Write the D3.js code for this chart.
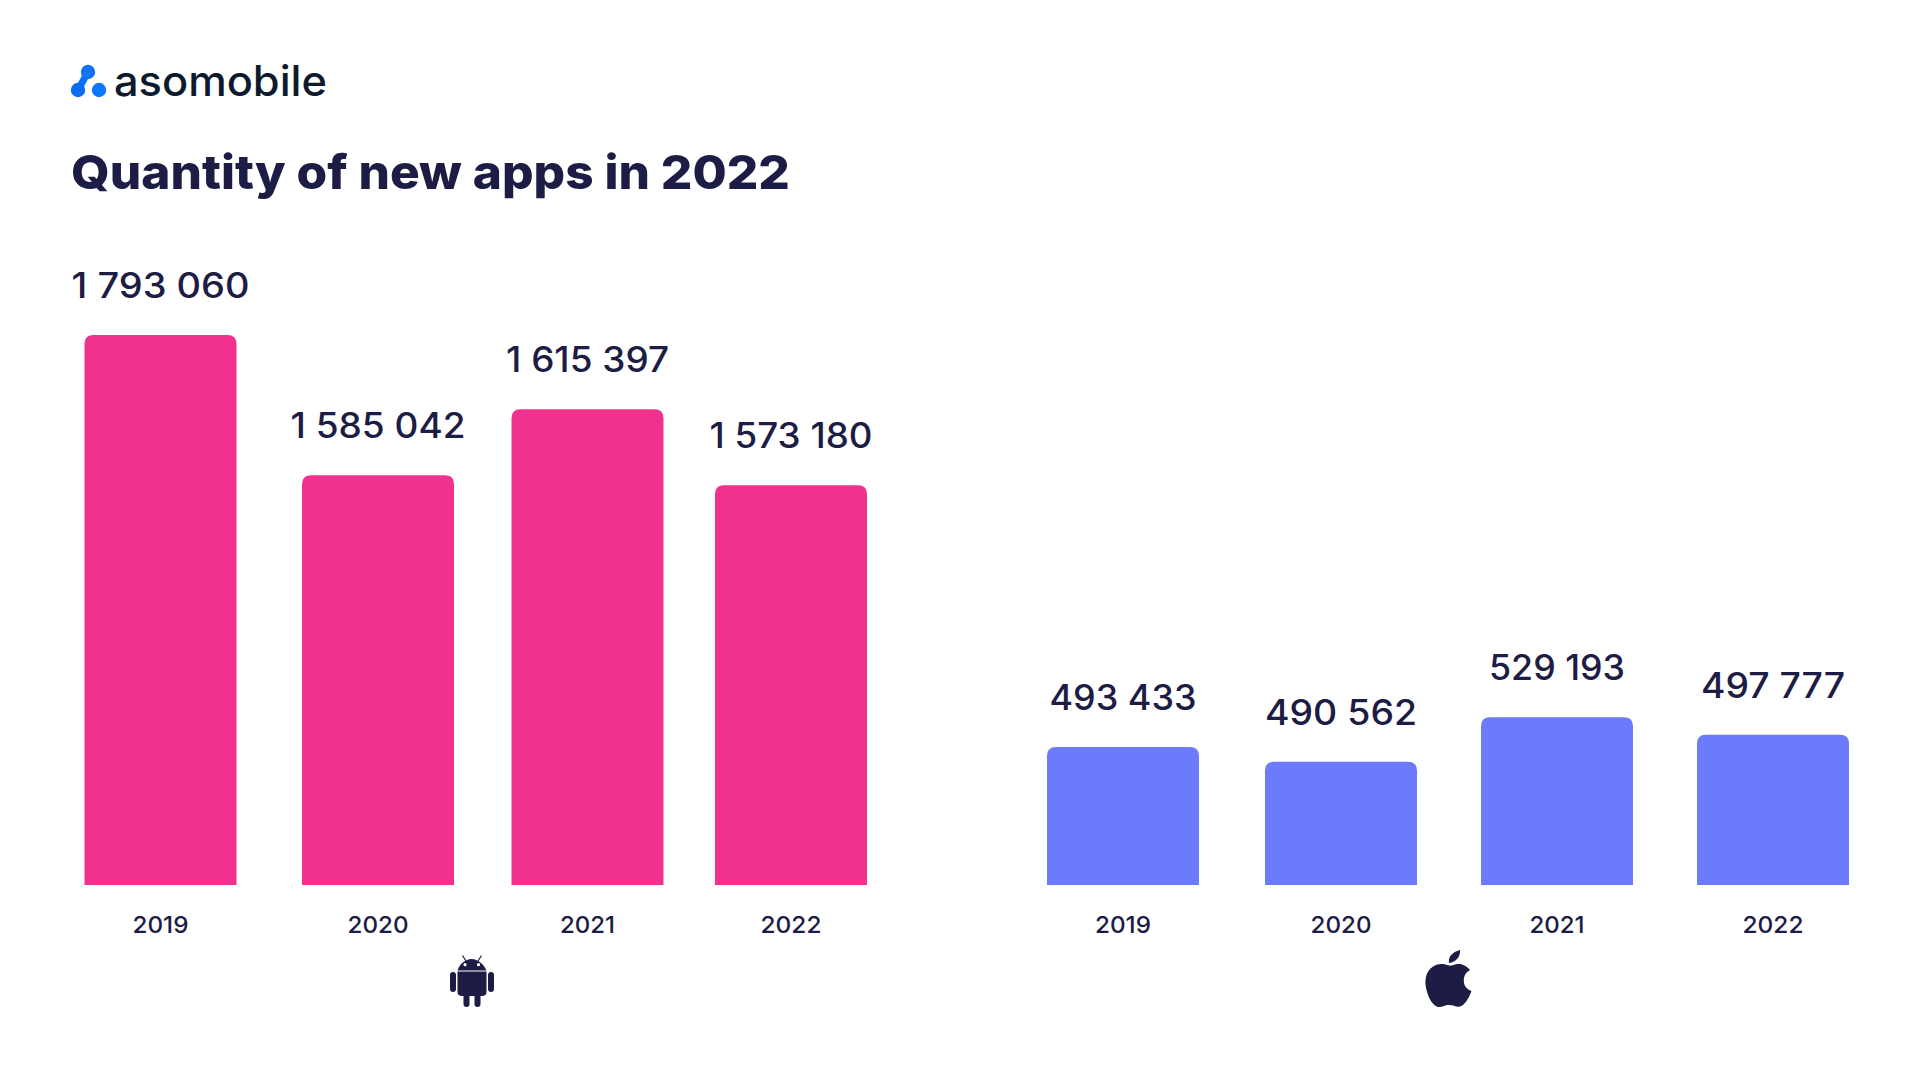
<!DOCTYPE html>
<html>
<head>
<meta charset="utf-8">
<style>
html,body{margin:0;padding:0;background:#fff;width:1920px;height:1080px;overflow:hidden}
svg{display:block}
text{font-family:Inter,"Noto Sans",sans-serif;fill:#1c1c44}
</style>
<script src="https://cdn.jsdelivr.net/npm/d3@7/dist/d3.min.js"></script>
</head>
<body>
<svg id="c" width="1920" height="1080"></svg>
<script>
const years = ["2019","2020","2021","2022"];
const androidLabels = ["1 793 060","1 585 042","1 615 397","1 573 180"];
const appleLabels = ["493 433","490 562","529 193","497 777"];
// Bar lengths as drawn in the picture (percent of tallest bar): the source art is not to scale with its labels
const androidLengths = [100,74.5,86.5,72.7];
const appleLengths = [25.1,22.4,30.5,27.3];
const androidCenters = [160.5,378,587.5,791];
const appleCenters = [1123,1341,1557,1773];
const androidLabelWidths = [178,175,163,163];
const appleLabelWidths = [147,152,136,144];
const PINK="#f0328e", BLUE="#6c7afc", INK="#1c1c44";

const svg=d3.select("#c");
const y=d3.scaleLinear().domain([0,100]).range([885,335]);
const barW=152,r=9;
function barPath(cx,top){
  const x0=cx-barW/2,x1=cx+barW/2,b=y(0);
  return `M${x0},${b}V${top+r}Q${x0},${top} ${x0+r},${top}H${x1-r}Q${x1},${top} ${x1},${top+r}V${b}Z`;
}
function group(lengths,labels,centers,widths,color){
  const g=svg.append("g");
  const idx=d3.range(years.length);
  g.selectAll("path.bar").data(idx).join("path").attr("class","bar")
    .attr("d",i=>barPath(centers[i],y(lengths[i]))).attr("fill",color);
  g.selectAll("text.val").data(idx).join("text").attr("class","val")
    .attr("x",i=>centers[i]).attr("y",i=>y(lengths[i])-37)
    .attr("text-anchor","middle").attr("font-size",35).attr("font-weight",500)
    .attr("textLength",i=>widths[i]).attr("lengthAdjust","spacingAndGlyphs")
    .text(i=>labels[i]);
  g.selectAll("text.yr").data(idx).join("text").attr("class","yr")
    .attr("x",i=>centers[i]).attr("y",933)
    .attr("text-anchor","middle").attr("font-size",23.5).attr("font-weight",500)
    .attr("textLength",i=>years[i]==="2021"?55:(years[i]==="2019"?56:61)).attr("lengthAdjust","spacingAndGlyphs")
    .text(i=>years[i]);
}
group(androidLengths,androidLabels,androidCenters,androidLabelWidths,PINK);
group(appleLengths,appleLabels,appleCenters,appleLabelWidths,BLUE);

// Title
svg.append("text").attr("x",71).attr("y",189).attr("font-size",47).attr("font-weight",800)
  .attr("textLength",719).attr("lengthAdjust","spacingAndGlyphs").text("Quantity of new apps in 2022");

// Logo
const logo=svg.append("g");
logo.append("line").attr("x1",78).attr("y1",90).attr("x2",88).attr("y2",72).attr("stroke","#0c70f4").attr("stroke-width",7);
logo.append("circle").attr("cx",78).attr("cy",90).attr("r",7.2).attr("fill","#0a6cf0");
logo.append("circle").attr("cx",88).attr("cy",72).attr("r",7.2).attr("fill","#0f74f5");
logo.append("circle").attr("cx",99).attr("cy",90).attr("r",7.2).attr("fill","#0d78ff");
svg.append("text").attr("x",114).attr("y",96).attr("font-size",42).attr("font-weight",500)
  .style("fill","#0d1a2d").attr("textLength",213).attr("lengthAdjust","spacingAndGlyphs").text("asomobile");

// Android icon
const a=svg.append("g").attr("fill",INK).attr("transform","translate(420,930)");
a.append("path").attr("d","M37.5,40.5 C40,33 46,29 51.5,29 C57,29 63,33 66.5,40.5 Z");
a.append("path").attr("d","M37.5,41.5 H66.5 V62 Q66.5,66 62,66 H42 Q37.5,66 37.5,62 Z");
a.append("rect").attr("x",30).attr("y",42).attr("width",6).attr("height",20).attr("rx",3);
a.append("rect").attr("x",68).attr("y",42).attr("width",6).attr("height",20).attr("rx",3);
a.append("rect").attr("x",43.5).attr("y",60).attr("width",6).attr("height",17).attr("rx",3);
a.append("rect").attr("x",54.5).attr("y",60).attr("width",6).attr("height",17).attr("rx",3);
a.append("path").attr("d","M46,31 L42.5,25.5 M58,31 L61.5,25.5").attr("stroke",INK).attr("stroke-width",1.2);
a.append("circle").attr("cx",45).attr("cy",34.7).attr("r",1.6).attr("fill","#fff");
a.append("circle").attr("cx",58.5).attr("cy",34.7).attr("r",1.6).attr("fill","#fff");

// Apple icon
const p=svg.append("g").attr("fill",INK).attr("transform","translate(1400,930)");
p.append("path").attr("d","M49,33 C48,27 52,22 60,20 C60.5,27 56,32 49,33 Z");
p.append("path").attr("d","M49,35.5 C44,33.5 38,33 33,36.5 C26,41 24,50 26.5,60 C28.5,68 33,76 38,77 C42,77.5 44,75 49,75 C54,75 56,77.5 60,76.5 C65,75 69,68 71.5,61 C65,58.5 63,53.5 64,48 C64.5,44.5 67,41.5 70,40 C66,35 61,33.5 57,34 C54,34.5 51.5,36 49,35.5 Z");
</script>
</body>
</html>
